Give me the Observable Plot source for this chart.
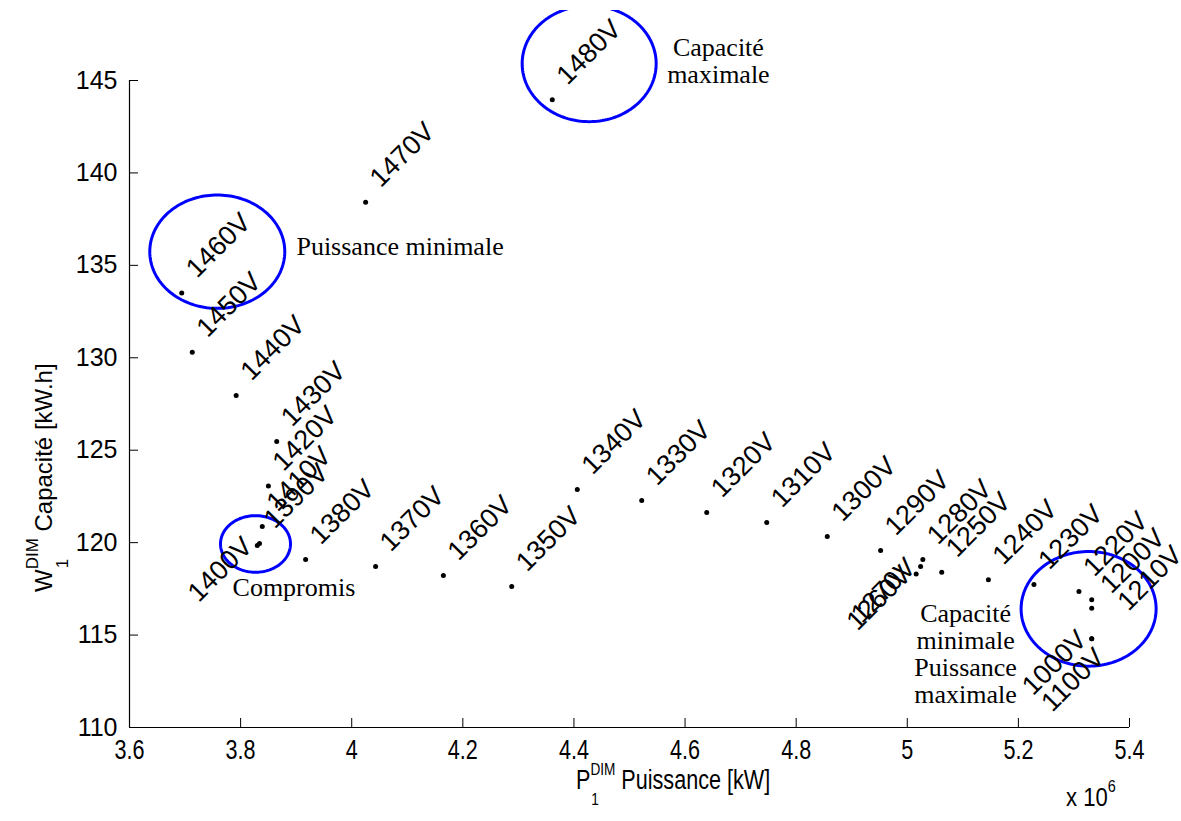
<!DOCTYPE html>
<html>
<head>
<meta charset="utf-8">
<script src="https://cdn.jsdelivr.net/npm/d3@7"></script>
<script src="https://cdn.jsdelivr.net/npm/@observablehq/plot@0.6"></script>
<style>
  html, body { margin: 0; padding: 0; background: #fff; }
  #wrap { position: relative; width: 1181px; height: 821px; overflow: hidden; background: #fff; }
  #chart { position: absolute; left: 0; top: 10px; }
  #chart svg { overflow: hidden; }
  .ttl { position: absolute; font-family: "Liberation Sans", Arial, sans-serif; font-size: 25px; line-height: 25px; white-space: nowrap; color: #000; }
  .stk { position: relative; display: inline-block; }
  .stk .sup { font-size: 17px; position: relative; top: -14px; }
  .stk .sub { font-size: 17px; position: absolute; left: 1px; top: 19px; }
  .sup2 { font-size: 17px; position: relative; top: -14px; }
  #xtitle { font-size: 27px; line-height: 27px; transform: scaleX(0.8); transform-origin: 0 0; }
  #xexp { font-size: 26px; line-height: 26px; transform: scaleX(0.85); transform-origin: 0 0; }
  #ytitle { font-size: 24px; line-height: 24px; transform: rotate(-90deg); transform-origin: 0 0; }
</style>
</head>
<body>
<div id="wrap">
  <div id="chart"></div>
  <div class="ttl" id="xtitle" style="left:576px; top:767px;">P<span class="stk"><span class="sup">DIM</span><span class="sub">1</span></span> Puissance [kW]</div>
  <div class="ttl" id="ytitle" style="left:32px; top:592px;">W<span class="stk"><span class="sup">DIM</span><span class="sub">1</span></span> Capacité [kW.h]</div>
  <div class="ttl" id="xexp" style="left:1066px; top:784px;">x 10<span class="sup2">6</span></div>
</div>
<script>
// ---- data (power in 10^6 kW, capacity in kW.h) ----
const volts = [1480, 1470, 1460, 1450, 1440, 1430, 1420, 1410, 1400, 1390, 1380, 1370, 1360, 1350, 1340, 1330, 1320, 1310, 1300, 1290, 1280, 1270, 1260, 1250, 1240, 1230, 1220, 1210, 1200, 1100, 1000];
const power = [4.361, 4.025, 3.694, 3.713, 3.792, 3.865, 3.850, 3.839, 3.830, 3.834, 3.917, 4.043, 4.165, 4.288, 4.406, 4.522, 4.639, 4.747, 4.856, 4.952, 5.028, 5.024, 5.016, 5.062, 5.146, 5.228, 5.309, 5.332, 5.332, 5.332, 5.332];
const capacity = [143.96, 138.41, 133.51, 130.30, 127.96, 125.47, 123.06, 120.87, 119.85, 119.95, 119.09, 118.71, 118.22, 117.63, 122.87, 122.28, 121.63, 121.09, 120.33, 119.57, 119.09, 118.71, 118.31, 118.40, 117.99, 117.73, 117.36, 116.91, 116.45, 114.80, 114.80];
const pointLabel = ["1480V", "1470V", "1460V", "1450V", "1440V", "1430V", "1420V", "1410V", "1400V", "1390V", "1380V", "1370V", "1360V", "1350V", "1340V", "1330V", "1320V", "1310V", "1300V", "1290V", "1280V", "1270V", "1260V", "1250V", "1240V", "1230V", "1220V\n1200V\n1210V", "", "", "", "1000V\n1100V"];
const labelOnLeft = [1400, 1270, 1260, 1000];

const xTicks = [3.6, 3.8, 4, 4.2, 4.4, 4.6, 4.8, 5, 5.2, 5.4];
const yTicks = [110, 115, 120, 125, 130, 135, 140, 145];

// highlighted regions (ellipses, data units)
const ellName = ["max capacity", "min power", "compromise", "min capacity"];
const ellCx = [4.4274, 3.758, 3.8268, 5.3264];
const ellCy = [145.91, 135.74, 119.93, 116.42];
const ellRx = [0.1206, 0.1215, 0.063, 0.1215];
const ellRy = [3.137, 3.066, 1.53, 3.10];

// annotations
const annoText = ["Capacité\nmaximale", "Puissance minimale", "Compromis", "Capacité\nminimale\nPuissance\nmaximale"];
const annoX = [4.660, 4.087, 3.896, 5.105];
const annoY = [144.88, 135.58, 117.14, 111.30];

// ---- tables ----
const rows = volts.map((v, i) => ({v, p: power[i], c: capacity[i], label: pointLabel[i], left: labelOnLeft.includes(v)}));
const ellPts = [];
ellName.forEach((name, k) => {
  const n = 160;
  for (let j = 0; j < n; j++) {
    const t = (2 * Math.PI * j) / n;
    ellPts.push({name, x: ellCx[k] + ellRx[k] * Math.cos(t), y: ellCy[k] + ellRy[k] * Math.sin(t)});
  }
});
const annos = annoText.map((t, i) => ({t, x: annoX[i], y: annoY[i]}));

const SANS = "Liberation Sans, Arial, sans-serif";
const SERIF = "Liberation Serif, Times New Roman, serif";

const chart = Plot.plot({
  width: 1181,
  height: 811,
  marginTop: 70,
  marginBottom: 94,
  marginLeft: 129,
  marginRight: 52,
  x: {domain: [3.6, 5.4], label: null},
  y: {domain: [110, 145], label: null},
  style: {fontFamily: SANS, background: "white", color: "black", overflow: "hidden"},
  marks: [
    Plot.ruleY([110], {stroke: "black", strokeWidth: 1.2}),
    Plot.ruleX([3.6], {stroke: "black", strokeWidth: 1.2}),
    Plot.axisX({ticks: xTicks, tickFormat: d => String(d), tickSize: -9, tickPadding: 21, fontSize: 27, label: null, fontFamily: SANS}),
    Plot.axisY({ticks: yTicks, tickFormat: d => String(d), tickSize: -9, tickPadding: 21, fontSize: 25, label: null, fontFamily: SANS}),
    Plot.line(ellPts, {x: "x", y: "y", z: "name", curve: "linear-closed", stroke: "#0000ff", strokeWidth: 3}),
    Plot.dot(rows, {x: "p", y: "c", r: 2.5, fill: "black", stroke: null}),
    Plot.text(rows.filter(d => d.label && !d.left), {
      x: "p", y: "c", text: "label", rotate: -45, textAnchor: "start", lineAnchor: "top",
      lineHeight: 0.9, dx: 3, dy: -26, fontSize: 27, fontFamily: SANS, fill: "black"
    }),
    Plot.text(rows.filter(d => d.label && d.left), {
      x: "p", y: "c", text: "label", rotate: -45, textAnchor: "end", lineAnchor: "top",
      lineHeight: 0.93, dx: -16, dy: -10, fontSize: 27, fontFamily: SANS, fill: "black"
    }),
    Plot.text(annos, {
      x: "x", y: "y", text: "t", textAnchor: "middle", lineAnchor: "bottom",
      lineHeight: 1.04, fontSize: 26, fontFamily: SERIF, fill: "black"
    })
  ]
});
// MATLAB-style condensed x tick labels
d3.select(chart).selectAll('g[aria-label="x-axis tick label"] text').each(function () {
  const t = this.getAttribute("transform") || "";
  this.setAttribute("transform", t + " scale(0.8,1)");
});
document.getElementById("chart").appendChild(chart);
</script>
</body>
</html>
